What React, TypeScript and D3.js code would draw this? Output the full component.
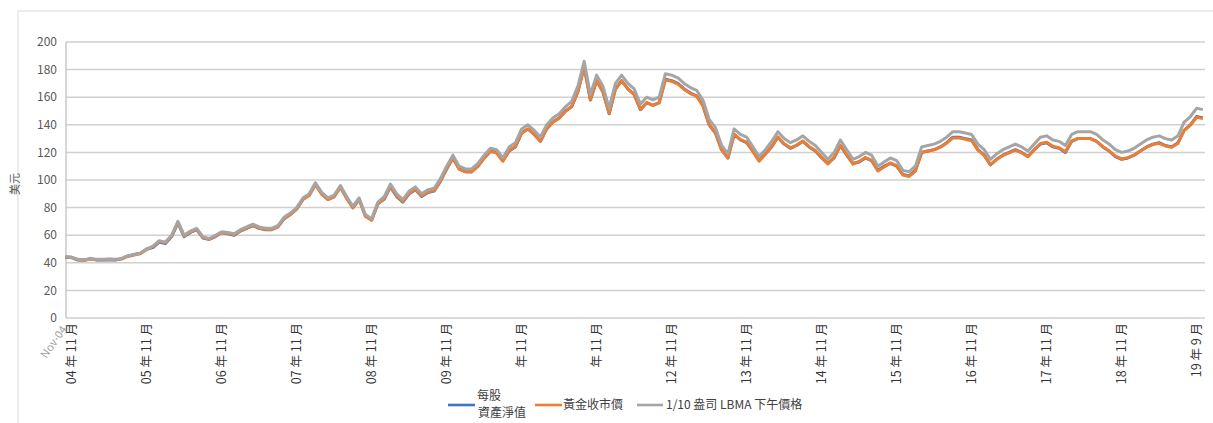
import React from "react";
import * as d3 from "d3";

const W = 1213;
const H = 423;

const yTicks = [0, 20, 40, 60, 80, 100, 120, 140, 160, 180, 200];
const xTickIndex = [1, 13, 25, 37, 49, 61, 73, 85, 97, 109, 121, 133, 145, 157, 169, 181];
const xTickLabels = [
  "04 年 11 月", "05 年 11 月", "06 年 11 月", "07 年 11 月", "08 年 11 月",
  "09 年 11 月", "年 11 月", "年 11 月", "12 年 11 月", "13 年 11 月",
  "14 年 11 月", "15 年 11 月", "16 年 11 月", "17 年 11 月", "18 年 11 月", "19 年 9 月",
];
const seriesNames = ["每股\n資產淨值", "黃金收市價", "1/10 盎司 LBMA 下午價格"];

// 1/10 oz LBMA PM price (gray)
const lbmaValues = [
  44.5, 44, 42.5, 42, 43, 42.5, 42.5, 42.8, 42.5, 43,
  45, 46, 47, 50, 52, 56, 55, 60, 70, 60,
  63, 65, 59, 57.5, 60, 62.5, 62, 61, 64, 66,
  68, 66, 65, 65, 67, 73, 76, 80, 87, 90,
  98, 91, 87, 89, 96, 88, 81, 87, 75, 72,
  84, 88, 97, 90, 86, 92, 95, 90, 93, 94,
  101, 110, 118, 110, 108, 108, 112, 118, 123, 122,
  116, 124, 127, 137, 140, 136, 131, 140, 145, 148,
  153, 157, 168, 186, 162, 176, 168, 152, 170, 176,
  170, 166, 155, 160, 158, 160, 177, 176, 174, 170,
  167, 165, 158, 144, 138, 125, 119, 137, 133, 131,
  124, 117, 122, 128, 135, 130, 127, 129, 132, 128,
  125, 120, 115, 120, 129, 122, 115, 117, 120, 118,
  110, 113, 116, 114, 107, 106, 110, 124, 125, 126,
  128, 131, 135, 135, 134, 133, 126, 122, 115, 119,
  122, 124, 126, 124, 121, 126, 131, 132, 129, 128,
  125, 133, 135, 135, 135, 133, 129, 126, 122, 120,
  121, 123, 126, 129, 131, 132, 130, 129, 132, 142,
  146, 152, 151,
];

// market close price (orange)
const marketValues = [
  44.2, 43.7, 42.2, 41.7, 42.7, 42.2, 42.2, 42.5, 42.2, 42.7,
  44.6, 45.6, 46.6, 49.6, 51.5, 55.5, 54.5, 59.4, 69.2, 59.4,
  62.3, 64.3, 58.4, 56.9, 59.3, 61.8, 61.3, 60.3, 63.2, 65.2,
  67.1, 65.2, 64.2, 64.2, 66.1, 72, 75, 78.9, 85.8, 88.8,
  96.6, 89.7, 85.8, 87.7, 94.6, 86.7, 79.8, 85.7, 73.8, 70.8,
  82.6, 86.5, 95.4, 88.5, 84.5, 90.4, 93.3, 88.4, 91.3, 92.3,
  99.2, 108, 115.8, 107.9, 105.9, 105.8, 109.8, 115.7, 120.6, 119.5,
  113.6, 121.4, 124.3, 134.1, 137, 133.1, 128.1, 136.9, 141.8, 144.7,
  149.6, 153.4, 164.2, 181.8, 158.2, 171.9, 164, 148.4, 165.9, 171.7,
  165.8, 161.9, 151.1, 156, 154, 155.9, 172.5, 171.5, 169.5, 165.6,
  162.6, 160.7, 153.8, 140.1, 134.3, 121.6, 115.8, 133.3, 129.3, 127.4,
  120.6, 113.7, 118.6, 124.4, 131.2, 126.3, 123.3, 125.3, 128.2, 124.3,
  121.3, 116.4, 111.6, 116.4, 125.1, 118.3, 111.5, 113.4, 116.3, 114.3,
  106.6, 109.5, 112.4, 110.4, 103.6, 102.6, 106.5, 120, 121, 121.9,
  123.8, 126.7, 130.5, 130.5, 129.5, 128.5, 121.7, 117.9, 111.1, 115,
  117.8, 119.7, 121.6, 119.7, 116.8, 121.6, 126.4, 127.3, 124.4, 123.4,
  120.5, 128.2, 130.1, 130, 130, 128, 124.1, 121.1, 117.3, 115.3,
  116.2, 118.1, 121, 123.8, 125.7, 126.6, 124.7, 123.7, 126.5, 135.9,
  139.8, 145.5, 144.5,
];

// NAV per share (blue)
const navValues = [
  44, 44, 42, 42, 43, 42, 42, 42, 42, 43,
  45, 46, 47, 50, 51, 55, 54, 59, 69, 59,
  62, 64, 58, 57, 59, 62, 61, 60, 63, 65,
  67, 65, 64, 64, 66, 72, 75, 79, 86, 89,
  97, 90, 86, 88, 95, 87, 80, 86, 74, 71,
  83, 86, 95, 88, 84, 90, 93, 88, 91, 92,
  99, 108, 116, 108, 106, 106, 110, 116, 121, 120,
  114, 121, 124, 134, 137, 133, 128, 137, 142, 145,
  150, 153, 164, 182, 158, 172, 164, 148, 166, 172,
  166, 162, 151, 156, 154, 156, 173, 172, 170, 166,
  163, 161, 154, 140, 134, 122, 116, 133, 129, 127,
  121, 114, 119, 124, 131, 126, 123, 125, 128, 124,
  121, 116, 112, 116, 125, 118, 112, 113, 116, 114,
  107, 110, 112, 110, 104, 103, 107, 120, 121, 122,
  124, 127, 131, 131, 130, 129, 122, 118, 111, 115,
  118, 120, 122, 120, 117, 122, 126, 127, 124, 123,
  120, 128, 130, 130, 130, 128, 124, 121, 117, 115,
  116, 118, 121, 124, 126, 127, 125, 124, 127, 136,
  140, 146, 145,
];

const colors = ["#4472C4", "#ED7D31", "#A5A5A5"];
const font = "'Noto Sans CJK TC', 'Noto Sans', sans-serif";

export default function App() {
  const x = d3.scaleLinear().domain([0, lbmaValues.length - 1]).range([65.4, 1202.9]);
  const y = d3.scaleLinear().domain([0, 200]).range([318, 42]);
  const line = d3
    .line<number>()
    .x((_, i) => x(i))
    .y((d) => y(d));
  const series = [navValues, marketValues, lbmaValues];

  return (
    <svg width={W} height={H} style={{ position: "absolute", left: 0, top: 0, background: "#fff" }}>
      <rect x={0} y={0} width={W} height={H} fill="#fff" />
      {/* outer frame */}
      <line x1={18} y1={11} x2={W} y2={11} stroke="#d9d9d9" strokeWidth={1} />
      <line x1={18} y1={11} x2={18} y2={H} stroke="#d9d9d9" strokeWidth={1} />
      {/* gridlines */}
      {yTicks.map((t) => (
        <line key={t} x1={66} x2={1205} y1={y(t)} y2={y(t)} stroke="#d0d0d0" strokeWidth={1.5} />
      ))}
      <line x1={66} x2={66} y1={y(200)} y2={y(0)} stroke="#c8c8c8" strokeWidth={1.5} />
      {yTicks.map((t) => (
        <text key={t} x={57} y={y(t)} dy="0.35em" textAnchor="end" fontSize={12} fill="#595959" fontFamily={font}>
          {t}
        </text>
      ))}
      <text
        transform={`translate(15,184) rotate(-90)`}
        textAnchor="middle"
        dy="0.35em"
        fontSize={11}
        fill="#595959"
        fontFamily={font}
      >
        美元
      </text>
      {/* series */}
      {series.map((s, k) => (
        <path key={k} d={line(s) || ""} fill="none" stroke={colors[k]} strokeWidth={3} strokeLinejoin="round" />
      ))}
      {/* x tick labels */}
      {xTickIndex.map((ix, k) => (
        <text
          key={k}
          transform={`translate(${x(ix)},323) rotate(-90)`}
          textAnchor="end"
          dy="0.35em"
          fontSize={12.5}
          fill="#333"
          fontFamily={font}
        >
          {xTickLabels[k]}
        </text>
      ))}
      <text
        transform={`translate(64,327) rotate(-55)`}
        textAnchor="end"
        dy="0.35em"
        fontSize={11}
        fill="#a0a0a0"
        fontFamily={font}
      >
        Nov-04
      </text>
      {/* legend */}
      <g fontFamily={font} fontSize={12} fill="#404040">
        <line x1={448} x2={475} y1={405} y2={405} stroke={colors[0]} strokeWidth={2.6} />
        <text x={477} y={396} dy="0.35em">{seriesNames[0].split("\n")[0]}</text>
        <text x={478} y={413} dy="0.35em">{seriesNames[0].split("\n")[1]}</text>
        <line x1={535} x2={562} y1={405} y2={405} stroke={colors[1]} strokeWidth={2.6} />
        <text x={563} y={405} dy="0.35em">{seriesNames[1]}</text>
        <line x1={637} x2={663} y1={405} y2={405} stroke={colors[2]} strokeWidth={2.6} />
        <text x={666} y={405} dy="0.35em">{seriesNames[2]}</text>
      </g>
    </svg>
  );
}
